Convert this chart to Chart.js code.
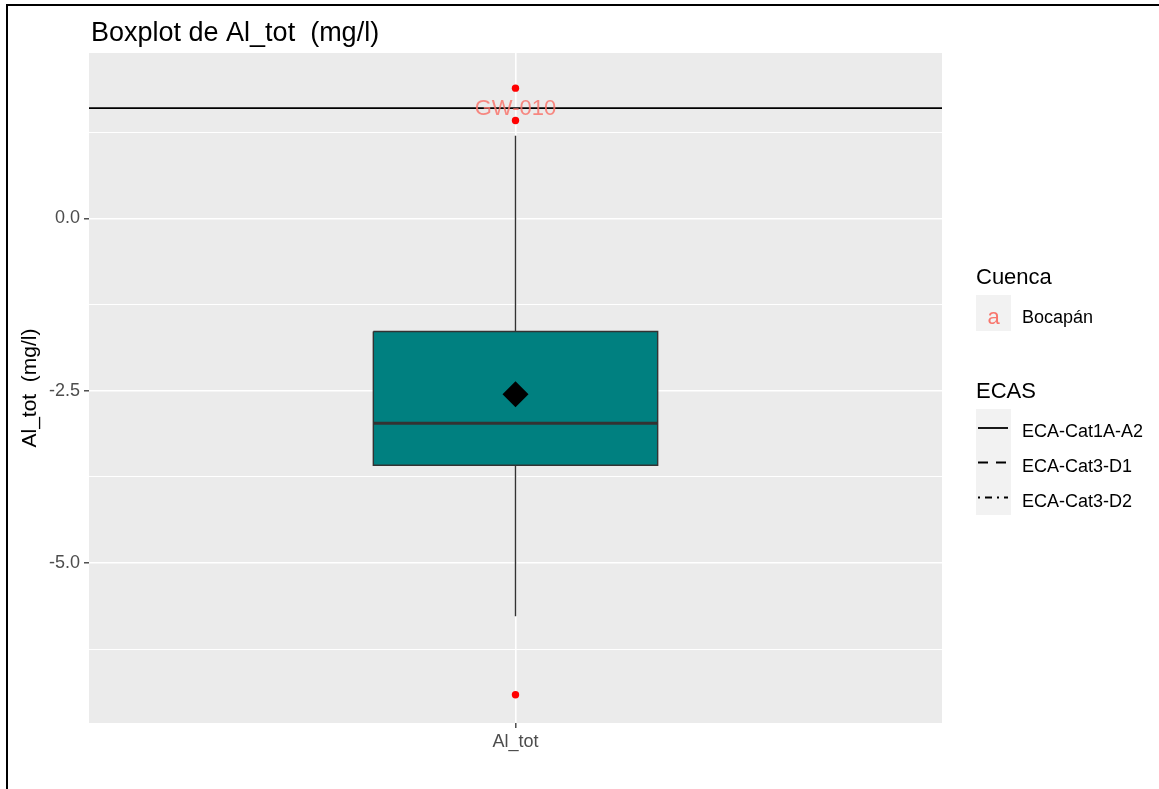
<!DOCTYPE html>
<html>
<head>
<meta charset="utf-8">
<script src="https://cdn.jsdelivr.net/npm/chart.js@4"></script>
<style>
  body { margin: 0; background: #fff; font-family: Arial, "Liberation Sans", sans-serif; }
  #wrap { position: relative; width: 1159px; height: 789px; overflow: hidden; }
  #frameTop { position: absolute; left: 6px; top: 4px; width: 1200px; height: 2px; background: #000; }
  #frameLeft { position: absolute; left: 6px; top: 4px; width: 2px; height: 800px; background: #000; }
  canvas { position: absolute; left: 0; top: 0; }
  .lg { position: absolute; white-space: nowrap; color: #000; }
  .lgTitle { font-size: 22px; line-height: 22px; }
  .lgText { font-size: 18px; line-height: 18px; }
  .key { position: absolute; background: #F2F2F2; }
</style>
</head>
<body>
<div id="wrap">
  <div id="frameTop"></div>
  <div id="frameLeft"></div>
  <canvas id="boxChart" width="1159" height="789"></canvas>

  <!-- leyenda al estilo ggplot -->
  <div class="lg lgTitle" style="left:976px; top:266px;">Cuenca</div>
  <div class="key" style="left:976px; top:295px; width:35px; height:36px;"></div>
  <div class="lg" style="left:976px; top:306px; width:35px; text-align:center; font-size:22px; line-height:22px; color:#F8766D;">a</div>
  <div class="lg lgText" style="left:1022px; top:308px;">Bocapán</div>

  <div class="lg lgTitle" style="left:976px; top:380px;">ECAS</div>
  <div class="key" style="left:976px; top:409px; width:35px; height:106px;"></div>
  <svg style="position:absolute; left:976px; top:409px;" width="35" height="106">
    <line x1="2" y1="19" x2="32" y2="19" stroke="#000" stroke-width="1.8"/>
    <line x1="2" y1="53.5" x2="32" y2="53.5" stroke="#000" stroke-width="1.8" stroke-dasharray="10 8"/>
    <line x1="2" y1="88.5" x2="32" y2="88.5" stroke="#000" stroke-width="1.8" stroke-dasharray="2 5 7 5"/>
  </svg>
  <div class="lg lgText" id="eca0" style="left:1022px; top:422px;"></div>
  <div class="lg lgText" id="eca1" style="left:1022px; top:457px;"></div>
  <div class="lg lgText" id="eca2" style="left:1022px; top:492px;"></div>
</div>

<script>
// Datos
const categories = ['Al_tot'];
const whiskerLow = [-5.77];
const q1 = [-3.58];
const median = [-2.97];
const q3 = [-1.64];
const whiskerHigh = [1.20];
const means = [-2.55];
const outliers = [1.89, 1.42, -6.91];
const labelTexts = ['GW-010'];
const labelValues = [1.60];
const ecaNames = ['ECA-Cat1A-A2', 'ECA-Cat3-D1', 'ECA-Cat3-D2'];
const ecaValues = [1.60];
const majorTicks = [-5.0, -2.5, 0.0];
const minorTicks = [-6.25, -3.75, -1.25, 1.25];
const yRange = [-7.32, 2.40];

ecaNames.forEach((n, i) => { document.getElementById('eca' + i).textContent = n; });

const BOX_HALF = 0.2;  // mitad del ancho de la caja (unidades del eje x)
const xc = 1;          // posición de la categoría

// Fondo gris del panel, título y etiqueta de texto
const ggPlugin = {
    id: 'ggStyle',
    beforeDraw(chart) {
        const a = chart.chartArea;
        const c = chart.ctx;
        c.save();
        c.fillStyle = '#EBEBEB';
        c.fillRect(a.left, a.top, a.right - a.left, a.bottom - a.top);
        c.restore();
    },
    afterDatasetsDraw(chart) {
        const c = chart.ctx;
        const x = chart.scales.x, y = chart.scales.y;
        c.save();
        c.font = '22px Arial, "Liberation Sans", sans-serif';
        c.fillStyle = 'rgba(248, 118, 109, 0.85)';
        c.textAlign = 'center';
        c.textBaseline = 'middle';
        labelTexts.forEach((t, i) => {
            c.fillText(t, x.getPixelForValue(xc), y.getPixelForValue(labelValues[i]) + 1);
        });
        c.restore();
    },
    afterDraw(chart) {
        const c = chart.ctx;
        c.save();
        c.font = '27px Arial, "Liberation Sans", sans-serif';
        c.fillStyle = '#000';
        c.textBaseline = 'alphabetic';
        c.fillText('Boxplot de Al_tot  (mg/l)', chart.chartArea.left + 2, 41);
        c.restore();
    }
};

const lineBase = { pointRadius: 0, fill: false, tension: 0 };

const ctx = document.getElementById('boxChart').getContext('2d');
new Chart(ctx, {
    type: 'line',
    data: {
        datasets: [
            // 0: borde superior de la caja (para el relleno)
            { ...lineBase, label: 'q3', order: 8, borderWidth: 0, borderColor: 'rgba(0,0,0,0)',
              data: [{ x: xc - BOX_HALF, y: q3[0] }, { x: xc + BOX_HALF, y: q3[0] }] },
            // 1: borde inferior, relleno hasta el anterior
            { ...lineBase, label: 'q1', order: 7, borderWidth: 0, borderColor: 'rgba(0,0,0,0)',
              fill: '-1', backgroundColor: '#008080',
              data: [{ x: xc - BOX_HALF, y: q1[0] }, { x: xc + BOX_HALF, y: q1[0] }] },
            // 2: bigote superior
            { ...lineBase, label: 'whiskerHigh', order: 6, borderColor: '#333333', borderWidth: 1.4,
              data: [{ x: xc, y: q3[0] }, { x: xc, y: whiskerHigh[0] }] },
            // 3: bigote inferior
            { ...lineBase, label: 'whiskerLow', order: 6, borderColor: '#333333', borderWidth: 1.4,
              data: [{ x: xc, y: q1[0] }, { x: xc, y: whiskerLow[0] }] },
            // 4: contorno de la caja
            { ...lineBase, label: 'box', order: 5, borderColor: '#333333', borderWidth: 1.4,
              data: [
                  { x: xc - BOX_HALF, y: q3[0] }, { x: xc + BOX_HALF, y: q3[0] },
                  { x: xc + BOX_HALF, y: q1[0] }, { x: xc - BOX_HALF, y: q1[0] },
                  { x: xc - BOX_HALF, y: q3[0] }
              ] },
            // 5: mediana
            { ...lineBase, label: 'median', order: 4, borderColor: '#333333', borderWidth: 3,
              data: [{ x: xc - BOX_HALF, y: median[0] }, { x: xc + BOX_HALF, y: median[0] }] },
            // 6: línea ECA
            { ...lineBase, label: ecaNames[0], order: 3, borderColor: '#000000', borderWidth: 1.6,
              data: [{ x: 0.4, y: ecaValues[0] }, { x: 1.6, y: ecaValues[0] }] },
            // 7: valores atípicos
            { label: 'outliers', order: 1, showLine: false, pointRadius: 3.7, pointBorderWidth: 0,
              pointBackgroundColor: '#FF0000', pointBorderColor: '#FF0000',
              data: outliers.map(v => ({ x: xc, y: v })) },
            // 8: media (rombo)
            { label: 'mean', order: 0, showLine: false, pointStyle: 'rectRot', pointRadius: 13,
              pointBorderWidth: 0, pointBackgroundColor: '#000000', pointBorderColor: '#000000',
              data: means.map(v => ({ x: xc, y: v })) }
        ]
    },
    options: {
        responsive: false,
        animation: false,
        events: [],
        layout: { padding: { left: 0, top: 53, right: 217, bottom: 0 } },
        plugins: { legend: { display: false }, tooltip: { enabled: false }, title: { display: false } },
        scales: {
            x: {
                type: 'linear',
                min: 0.4,
                max: 1.6,
                afterBuildTicks: s => { s.ticks = categories.map((c, i) => ({ value: i + 1 })); },
                afterFit: s => { s.height = 66; },
                ticks: {
                    callback: v => categories[Math.round(v) - 1] || '',
                    color: '#4D4D4D',
                    font: { size: 18, family: 'Arial, "Liberation Sans", sans-serif' },
                    padding: 3,
                    maxRotation: 0,
                    autoSkip: false
                },
                grid: { color: '#FFFFFF', lineWidth: 1.6, tickLength: 5, tickColor: '#333333', tickWidth: 1.3 },
                border: { display: false }
            },
            y: {
                type: 'linear',
                min: yRange[0],
                max: yRange[1],
                afterBuildTicks: s => {
                    s.ticks = majorTicks.concat(minorTicks).sort((a, b) => a - b).map(v => ({ value: v }));
                },
                afterFit: s => { s.width = 89; },
                ticks: {
                    callback: v => majorTicks.includes(v) ? v.toFixed(1) : '',
                    color: '#4D4D4D',
                    font: { size: 18, family: 'Arial, "Liberation Sans", sans-serif' },
                    padding: 4,
                    autoSkip: false
                },
                grid: {
                    color: '#FFFFFF',
                    lineWidth: c => majorTicks.includes(c.tick.value) ? 1.6 : 1.0,
                    tickLength: 5,
                    tickWidth: 1.3,
                    tickColor: c => majorTicks.includes(c.tick.value) ? '#333333' : 'rgba(0,0,0,0)'
                },
                border: { display: false },
                title: {
                    display: true,
                    text: 'Al_tot  (mg/l)',
                    color: '#000000',
                    font: { size: 21, family: 'Arial, "Liberation Sans", sans-serif' },
                    padding: { top: 18, bottom: 0 }
                }
            }
        }
    },
    plugins: [ggPlugin]
});
</script>
</body>
</html>
